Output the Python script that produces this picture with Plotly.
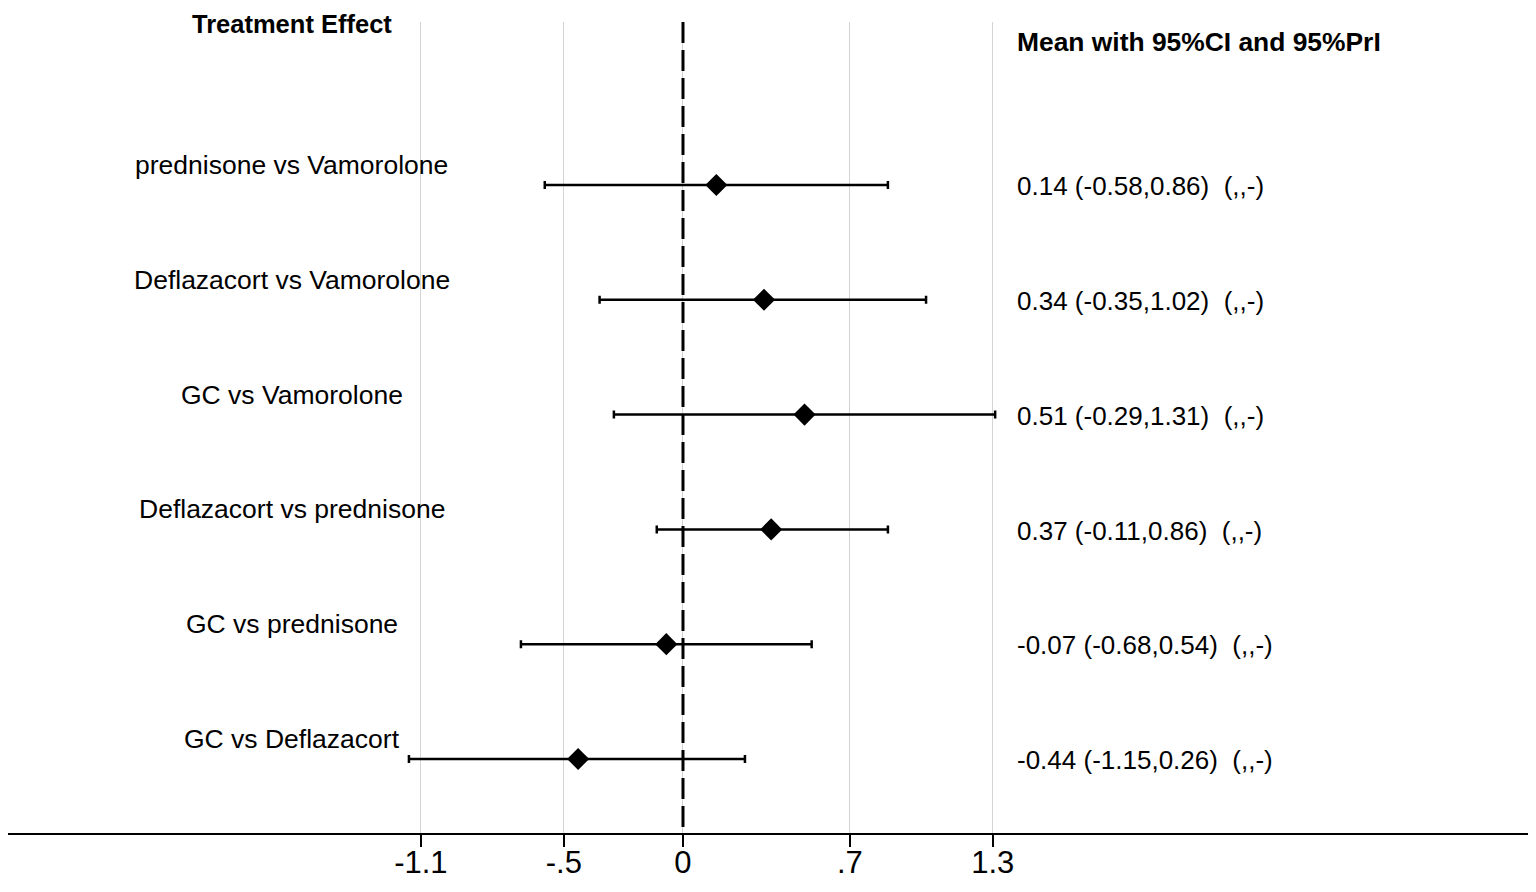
import plotly.graph_objects as go

# comparisons, top to bottom
comparisons = ["prednisone vs Vamorolone", "Deflazacort vs Vamorolone", "GC vs Vamorolone",
               "Deflazacort vs prednisone", "GC vs prednisone", "GC vs Deflazacort"]
means = [0.14, 0.34, 0.51, 0.37, -0.07, -0.44]
ci_low = [-0.58, -0.35, -0.29, -0.11, -0.68, -1.15]
ci_high = [0.86, 1.02, 1.31, 0.86, 0.54, 0.26]

tick_vals = [-1.1, -0.5, 0, 0.7, 1.3]
tick_text = ["-1.1", "-.5", "0", ".7", "1.3"]

FONT = "Liberation Sans, Arial, sans-serif"
rows = list(range(len(comparisons)))

fig = go.Figure()

# dashed null line
fig.add_shape(type="line", x0=0, x1=0, y0=-1.42, y1=5.645, xref="x", yref="y",
              line=dict(color="black", width=3, dash="21px,7px"), layer="above")

fig.add_trace(go.Scatter(
    x=means, y=rows, mode="markers",
    marker=dict(symbol="diamond", size=17, color="black"),
    error_x=dict(type="data", symmetric=False,
                 array=[h - m for h, m in zip(ci_high, means)],
                 arrayminus=[m - l for m, l in zip(means, ci_low)],
                 color="black", thickness=2.5, width=4),
    showlegend=False, hoverinfo="skip",
))

# row labels and estimate text
for i, name in enumerate(comparisons):
    fig.add_annotation(x=-1.641, y=i - 0.174, text=name, showarrow=False,
                       xanchor="center", yanchor="middle",
                       font=dict(family=FONT, size=26.5, color="black"))
    txt = f"{means[i]:.2f} ({ci_low[i]:.2f},{ci_high[i]:.2f})  (,,-)"
    fig.add_annotation(x=1.393, y=i + 0.01, text=txt, showarrow=False,
                       xanchor="left", yanchor="middle",
                       font=dict(family=FONT, size=26, color="black"))

# headers (above the plot area, so paper coords)
fig.add_annotation(x=-1.641, xref="x", y=1.0, yref="paper", yshift=-2,
                   text="<b>Treatment Effect</b>", showarrow=False,
                   xanchor="center", yanchor="middle",
                   font=dict(family=FONT, size=25.5, color="black"))
fig.add_annotation(x=1.393, y=-1.246, text="<b>Mean with 95%CI and 95%PrI</b>", showarrow=False,
                   xanchor="left", yanchor="middle",
                   font=dict(family=FONT, size=26.4, color="black"))

fig.update_xaxes(range=[-2.8325, 3.546], tickvals=tick_vals, ticktext=tick_text,
                 showgrid=True, gridcolor="#d4d4d4", gridwidth=1,
                 showline=True, linecolor="black", linewidth=2,
                 ticks="outside", ticklen=12, tickwidth=2, tickcolor="black",
                 tickfont=dict(family=FONT, size=31, color="black"),
                 ticklabelstandoff=-11,
                 zeroline=False, automargin=False)
fig.update_yaxes(range=[5.645, -1.42], visible=False, showgrid=False, zeroline=False)

# page adds an 8px body margin, so the figure is 16px smaller than the window
fig.update_layout(width=1520, height=876, plot_bgcolor="white", paper_bgcolor="white",
                  margin=dict(l=0, r=0, t=14, b=51))

fig.write_html("out.html")
